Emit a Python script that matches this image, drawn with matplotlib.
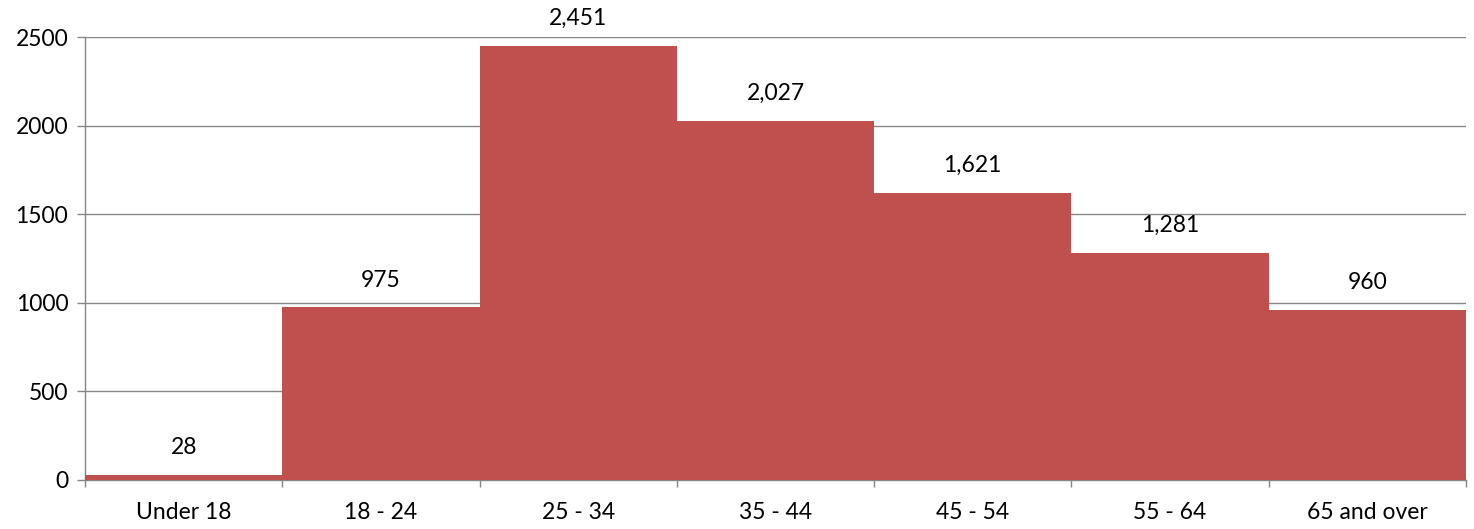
import matplotlib
matplotlib.use("Agg")
import matplotlib.pyplot as plt
import numpy as np

categories = ["Under 18", "18 - 24", "25 - 34", "35 - 44", "45 - 54", "55 - 64", "65 and over"]
values = [28, 975, 2451, 2027, 1621, 1281, 960]
yticks = [0, 500, 1000, 1500, 2000, 2500]

plt.rcParams['font.family'] = ['Lato', 'DejaVu Sans']
FS = 16.5

fig = plt.figure(figsize=(14.74, 5.29), dpi=100)
ax = fig.add_axes([85/1474, 1-480/529, (1466-85)/1474, (480-37)/529])

x = np.arange(len(categories))
ax.bar(x, values, width=1.0, color="#C0504D", zorder=3)
ax.set_xlim(-0.5, len(categories)-0.5)
ax.set_ylim(0, 2500)
ax.set_yticks(yticks)
ax.set_yticklabels([str(v) for v in yticks], fontsize=FS)
ax.yaxis.grid(True, color="#868686", linewidth=1.0, zorder=0)
ax.set_axisbelow(True)

ax.set_xticks(x)
ax.set_xticklabels(categories, fontsize=FS)
ax.set_xticks(np.arange(-0.5, len(categories)), minor=True)
ax.tick_params(axis='x', which='major', length=0, pad=16)
ax.tick_params(axis='x', which='minor', length=5, color="#868686", width=1)
ax.tick_params(axis='y', length=6, color="#868686", width=1, pad=6)

for s in ["top", "right"]:
    ax.spines[s].set_visible(False)
for s in ["left", "bottom"]:
    ax.spines[s].set_color("#868686")
    ax.spines[s].set_linewidth(1.0)

for xi, v in zip(x, values):
    ax.annotate(f"{v:,}", (xi, v), xytext=(0, 12), textcoords="offset points",
                ha="center", va="bottom", fontsize=FS, color="black")

fig.savefig("out.png", dpi=100)
